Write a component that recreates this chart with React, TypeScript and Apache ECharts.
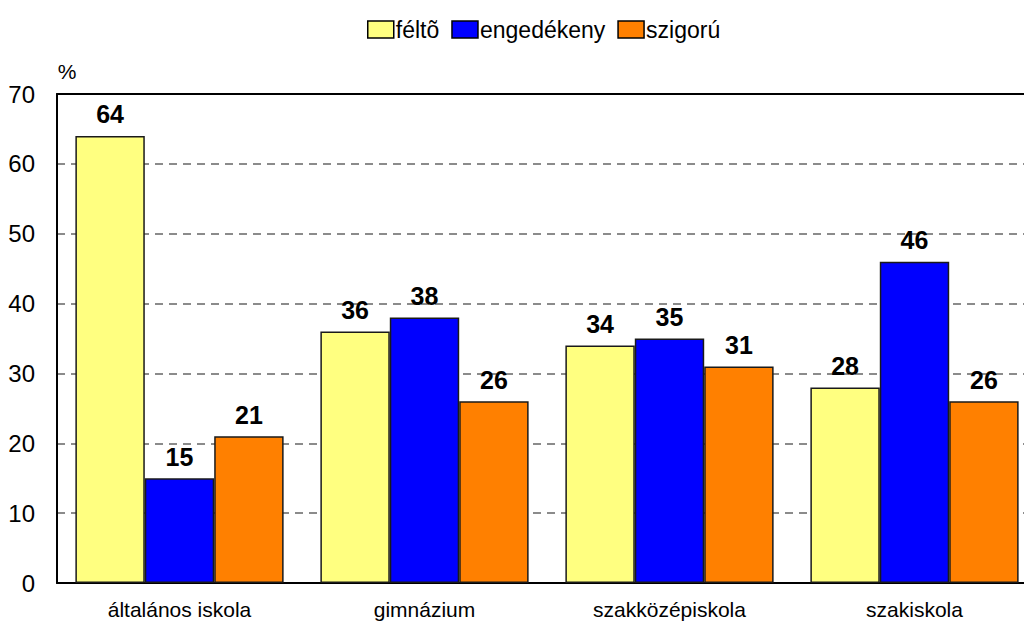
import React, { useEffect, useRef } from "react";
import * as echarts from "echarts";

const categories = ["általános iskola", "gimnázium", "szakközépiskola", "szakiskola"];
const seriesNames = ["féltõ", "engedékeny", "szigorú"];
const feltoValues = [64, 36, 34, 28];
const engedekenyValues = [15, 38, 35, 46];
const szigoruValues = [21, 26, 31, 26];
const seriesColors = ["#FFFF80", "#0000FF", "#FF8000"];

const FONT = "'Liberation Sans', Arial, sans-serif";

export default function App() {
  const ref = useRef<HTMLDivElement>(null);
  useEffect(() => {
    document.body.style.margin = "0";
    document.body.style.overflow = "hidden";
    const chart = echarts.init(ref.current!, null, { renderer: "svg" });
    const values = [feltoValues, engedekenyValues, szigoruValues];
    chart.setOption({
      animation: false,
      backgroundColor: "#ffffff",
      legend: {
        top: 13,
        left: 362,
        itemWidth: 26,
        itemHeight: 17,
        itemGap: 12,
        icon: "rect",
        itemStyle: { borderColor: "#000", borderWidth: 1.5 },
        textStyle: { fontSize: 23, fontFamily: FONT, color: "#000", padding: [0, 0, 0, -3] },
        data: seriesNames,
      },
      grid: { left: 57, right: 3, top: 94, bottom: 44, containLabel: false },
      xAxis: [
        {
          type: "category",
          data: categories,
          axisLine: { show: true, lineStyle: { color: "#000", width: 2 } },
          axisTick: { show: false },
          axisLabel: { fontSize: 21, fontFamily: FONT, color: "#000", margin: 16 },
        },
        {
          type: "category",
          position: "top",
          data: categories,
          axisLine: { show: true, lineStyle: { color: "#000", width: 2 } },
          axisTick: { show: false },
          axisLabel: { show: false },
        },
      ],
      yAxis: {
        type: "value",
        min: 0,
        max: 70,
        interval: 10,
        name: "%",
        nameGap: 12,
        nameTextStyle: { fontSize: 21, fontFamily: FONT, color: "#000", align: "center", padding: [0, 0, 0, 20] },
        axisLine: { show: true, lineStyle: { color: "#000", width: 2 } },
        axisTick: { show: false },
        axisLabel: { fontSize: 24, fontFamily: FONT, color: "#000", margin: 22 },
        splitLine: { show: true, lineStyle: { color: "#666", type: [8, 6], width: 1.5 } },
      },
      series: seriesNames.map((name, i) => ({
        name,
        type: "bar",
        data: values[i],
        barGap: "0%",
        barCategoryGap: "15%",
        itemStyle: { color: seriesColors[i], borderColor: "#1a1a1a", borderWidth: 1.5 },
        label: {
          show: true,
          position: "top",
          distance: 9,
          fontSize: 25,
          fontWeight: "bold",
          fontFamily: FONT,
          color: "#000",
        },
      })),
    });
    return () => chart.dispose();
  }, []);
  return (
    <div style={{ width: 1024, height: 627, overflow: "hidden" }}>
      <div ref={ref} style={{ width: 1040, height: 627 }} />
    </div>
  );
}
